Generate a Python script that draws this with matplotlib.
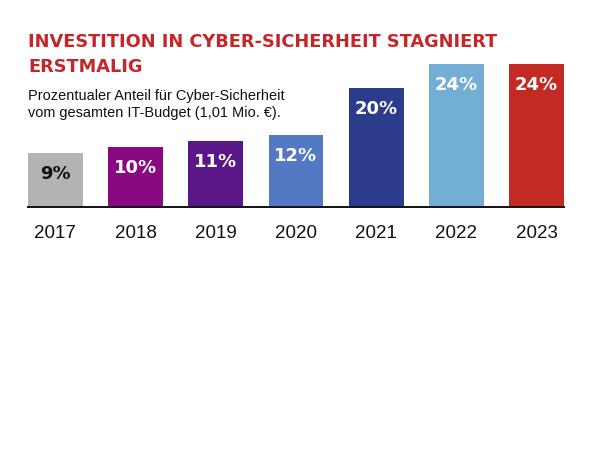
import matplotlib
matplotlib.use("Agg")
import matplotlib.pyplot as plt
import numpy as np


# ── Data ─────────────────────────────────────────────────────────────────────
years = ["2017", "2018", "2019", "2020", "2021", "2022", "2023"]
shares = [9, 10, 11, 12, 20, 24, 24]
bar_colors = ["#b3b3b3", "#890a80", "#5a1787", "#5379c2",
              "#2d3b8c", "#73afd4", "#c42a24"]
label_colors = ["#111111", "white", "white", "white", "white", "white", "white"]

TITLE_LINES = ["INVESTITION IN CYBER-SICHERHEIT STAGNIERT", "ERSTMALIG"]
SUBTITLE_LINES = ["Prozentualer Anteil für Cyber-Sicherheit",
                  "vom gesamten IT-Budget (1,01 Mio. €)."]
# ─────────────────────────────────────────────────────────────────────────────

plt.rcParams["font.family"] = ["Liberation Sans", "DejaVu Sans"]

W, H = 591, 472
fig = plt.figure(figsize=(W / 100, H / 100), dpi=100)
fig.patch.set_facecolor("white")

# axes in pixel geometry: left 28, right 564, baseline at y=207
ymax = 24.5
px_per_unit = 5.96
ax_left, ax_right, ax_bottom = 28, 564, 207
ax_top = ax_bottom - ymax * px_per_unit
ax = fig.add_axes([ax_left / W, 1 - ax_bottom / H,
                   (ax_right - ax_left) / W, (ax_bottom - ax_top) / H])

x = np.arange(len(years))
width = 0.683
ax.bar(x, shares, width=width, color=bar_colors, zorder=2)
ax.set_xlim(-width / 2, len(years) - 1 + width / 2)
ax.set_ylim(0, ymax)

for xi, v, c in zip(x, shares, label_colors):
    ax.annotate(f"{v}%", (xi, v), xytext=(0, -21), textcoords="offset pixels",
                ha="center", va="center", color=c, fontsize=13,
                fontweight="bold", family="DejaVu Sans")

for s in ["top", "right", "left"]:
    ax.spines[s].set_visible(False)
ax.spines["bottom"].set_linewidth(1.4)
ax.spines["bottom"].set_color("#111111")
ax.set_yticks([])
ax.set_xticks(x)
ax.set_xticklabels(years, fontsize=13.5, color="#111111")
ax.tick_params(axis="x", length=0, pad=13)

for i, line in enumerate(TITLE_LINES):
    fig.text(28 / W, 1 - (47 + 25 * i) / H, line, ha="left", va="baseline",
             color="#c4262a", fontsize=12.75, fontweight="bold",
             family="DejaVu Sans")
for i, line in enumerate(SUBTITLE_LINES):
    fig.text(28 / W, 1 - (100 + 17 * i) / H, line, ha="left", va="baseline",
             color="#111111", fontsize=10.45)

fig.savefig("out.png", dpi=100, facecolor="white")
